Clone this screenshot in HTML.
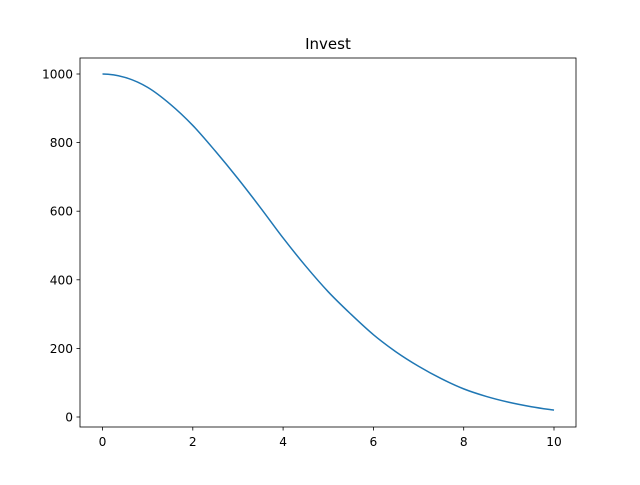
<!DOCTYPE html>
<html><head><meta charset="utf-8"><style>
body{margin:0;background:#fff}
svg text{font-family:"DejaVu Sans","Liberation Sans",sans-serif;font-size:12.2px;fill:#000}
</style></head><body>
<svg id="chart" width="640" height="480" viewBox="0 0 640 480" xmlns="http://www.w3.org/2000/svg">
<rect x="0" y="0" width="640" height="480" fill="#fff"/>
<text x="328" y="49" text-anchor="middle" style="font-size:15px">Invest</text>
<g id="axes"></g>
<path id="line" fill="none" stroke="#1f77b4" stroke-width="1.5"/>
<rect x="80" y="58" width="496" height="369" fill="none" stroke="#000" stroke-width="0.8"/>
</svg>
<script>
const xValues=[0,0.5,1,1.5,2,2.5,3,3.5,4,4.5,5,5.5,6,6.5,7,7.5,8,8.5,9,9.5,10];
const yValues=[1000,990,961,912,850,775,695,610,522,440,365,300,240,190,148,112,82,60,43,30,20];
const xTicks=[0,2,4,6,8,10];
const yTicks=[0,200,400,600,800,1000];
const sx=v=>102.5+v*45.15;
const sy=v=>417-v*0.343;
const ns="http://www.w3.org/2000/svg";
const ax=document.getElementById('axes');
xTicks.forEach(t=>{
 const l=document.createElementNS(ns,'line');
 l.setAttribute('x1',sx(t));l.setAttribute('x2',sx(t));l.setAttribute('y1',427);l.setAttribute('y2',430.5);l.setAttribute('stroke','#000');l.setAttribute('stroke-width','0.8');
 
 
 ax.appendChild(l);
 const tx=document.createElementNS(ns,'text');
 tx.setAttribute('x',sx(t));tx.setAttribute('y',446);tx.setAttribute('text-anchor','middle');tx.textContent=t;
 
 
 ax.appendChild(tx);
});
yTicks.forEach(t=>{
 const l=document.createElementNS(ns,'line');
 l.setAttribute('x1',76.5);l.setAttribute('x2',80);l.setAttribute('y1',sy(t));l.setAttribute('y2',sy(t));l.setAttribute('stroke','#000');l.setAttribute('stroke-width','0.8');
 
 
 ax.appendChild(l);
 const tx=document.createElementNS(ns,'text');
 tx.setAttribute('x',73);tx.setAttribute('y',sy(t)+4.5);tx.setAttribute('text-anchor','end');tx.textContent=t;
 
 
 ax.appendChild(tx);
});
const P=xValues.map((x,i)=>[sx(x),sy(yValues[i])]);
let d='M'+P[0][0].toFixed(2)+','+P[0][1].toFixed(2);
for(let i=0;i<P.length-1;i++){
 const p1=P[i],p2=P[i+1];
 const p0=i===0?[2*p1[0]-p2[0],p2[1]]:P[i-1];
 const p3=P[Math.min(P.length-1,i+2)];
 const c1=[p1[0]+(p2[0]-p0[0])/6,p1[1]+(p2[1]-p0[1])/6];
 const c2=[p2[0]-(p3[0]-p1[0])/6,p2[1]-(p3[1]-p1[1])/6];
 d+=' C'+c1.map(v=>v.toFixed(2)).join(',')+' '+c2.map(v=>v.toFixed(2)).join(',')+' '+p2.map(v=>v.toFixed(2)).join(',');
}
document.getElementById('line').setAttribute('d',d);
</script>
</body></html>
